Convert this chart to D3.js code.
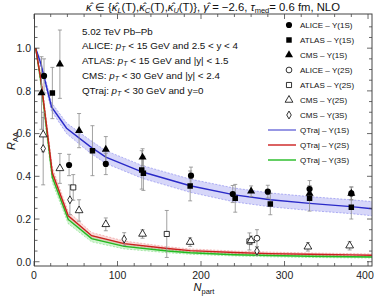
<!DOCTYPE html>
<html><head><meta charset="utf-8">
<script src="https://cdn.jsdelivr.net/npm/d3@7/dist/d3.min.js"></script>
<style>body{margin:0;background:#fff}svg{font-family:"Liberation Sans",Arial,sans-serif}</style>
</head><body>
<svg id="c" width="374" height="300"></svg>
<script>
// ---- data: [Npart, RAA, error]
const aliceY1S = [[12,0.87,0.08],[42,0.453,0.05],[86,0.458,0.05],[188,0.403,0.04],[238,0.317,0.04],[280,0.328,0.03],[330,0.34,0.04],[380,0.32,0.03]];
const atlasY1S = [[22,0.79,0.12],[70,0.52,0.117],[129,0.43,0.09],[131,0.414,0.08],[187,0.355,0.07],[241,0.297,0.065],[283,0.27,0.05],[330,0.297,0.06],[380,0.255,0.055]];
const cmsY1S   = [[9,0.79,0.17],[31,0.925,0.16],[54,0.614,0.08],[86,0.526,0.06],[130,0.489,0.04],[260,0.33,0.025],[330,0.32,0.03],[380,0.32,0.03]];
const aliceY2S = [[267,0.11,0.04]];
const atlasY2S = [[47,0.348,0.06],[159,0.13,0.11],[258,0.095,0.04]];
const cmsY2S   = [[11,0.595,0.08],[31,0.437,0.07],[54,0.24,0.05],[86,0.175,0.03],[130,0.13,0.02],[187,0.092,0.02],[260,0.10,0.02],[328,0.07,0.02],[378,0.075,0.02]];
const cmsY3S   = [[11,0.53,0.17],[43,0.29,0.07],[108,0.106,0.03],[267,0.05,0.02]];

// ---- QTraj curves
const qtraj1S_N  = [2,8,21,39,67,86,130,187,240,283,330,380,410];
const qtraj1S    = [1.0,0.93,0.725,0.625,0.54,0.49,0.42,0.356,0.313,0.29,0.273,0.258,0.246];
const qtraj1S_lo = [1.0,0.915,0.705,0.60,0.51,0.46,0.39,0.325,0.28,0.257,0.24,0.225,0.213];
const qtraj1S_hi = [1.0,0.945,0.745,0.65,0.57,0.52,0.45,0.387,0.345,0.322,0.305,0.29,0.28];
const qtrajNS_N  = [2,8,22,41,69,108,160,187,240,283,330,380,410];
const qtraj2S    = [1.0,0.86,0.415,0.215,0.122,0.085,0.062,0.052,0.043,0.038,0.035,0.032,0.03];
const qtraj2S_lo = [1.0,0.84,0.39,0.195,0.107,0.073,0.054,0.045,0.036,0.032,0.029,0.026,0.024];
const qtraj2S_hi = [1.0,0.88,0.44,0.235,0.137,0.097,0.07,0.06,0.05,0.045,0.041,0.038,0.036];
const qtraj3S    = [1.0,0.85,0.395,0.198,0.108,0.072,0.05,0.042,0.033,0.029,0.026,0.023,0.022];
const qtraj3S_lo = [1.0,0.83,0.37,0.178,0.093,0.06,0.042,0.035,0.027,0.023,0.02,0.018,0.017];
const qtraj3S_hi = [1.0,0.87,0.42,0.218,0.123,0.084,0.058,0.049,0.039,0.035,0.032,0.028,0.027];

const xTicks = [0,100,200,300,400];
const yTicks = [0.0,0.2,0.4,0.6,0.8,1.0];
const legendLabels = ["ALICE – Υ(1S)","ATLAS – Υ(1S)","CMS – Υ(1S)","ALICE – Υ(2S)","ATLAS – Υ(2S)","CMS – Υ(2S)","CMS – Υ(3S)","QTraj – Υ(1S)","QTraj – Υ(2S)","QTraj – Υ(3S)"];

const svg = d3.select("#c");
const L=34.5, R=372, T=14, B=266;
const x = d3.scaleLinear().domain([0,405]).range([34,372.2]);
const y = d3.scaleLinear().domain([-0.02,1.16]).range([B,T]);

svg.append("clipPath").attr("id","clp").append("rect").attr("x",L).attr("y",T).attr("width",R-L).attr("height",B-T);
const plot = svg.append("g").attr("clip-path","url(#clp)");

function band(N, lo, hi, fill, edge){
  const pts = N.map((n,i)=>({n,lo:lo[i],hi:hi[i]}));
  plot.append("path").datum(pts).attr("fill",fill).attr("stroke","none")
    .attr("d", d3.area().x(d=>x(d.n)).y0(d=>y(d.lo)).y1(d=>y(d.hi)));
  [lo,hi].forEach(arr=>{
    plot.append("path").datum(N.map((n,i)=>[n,arr[i]])).attr("fill","none")
      .attr("stroke",edge).attr("stroke-width",0.6).attr("stroke-dasharray","2,1.5")
      .attr("d", d3.line().x(d=>x(d[0])).y(d=>y(d[1])));
  });
}
function curve(N, v, color){
  plot.append("path").datum(N.map((n,i)=>[n,v[i]])).attr("fill","none")
    .attr("stroke",color).attr("stroke-width",1.4)
    .attr("d", d3.line().x(d=>x(d[0])).y(d=>y(d[1])));
}
band(qtraj1S_N, qtraj1S_lo, qtraj1S_hi, "rgba(110,110,235,0.28)", "rgba(90,90,230,0.7)");
band(qtrajNS_N, qtraj3S_lo, qtraj3S_hi, "rgba(90,220,90,0.28)", "rgba(60,200,60,0.6)");
band(qtrajNS_N, qtraj2S_lo, qtraj2S_hi, "rgba(235,110,110,0.25)", "rgba(230,90,90,0.6)");
curve(qtraj1S_N, qtraj1S, "#2a2ac8");
curve(qtrajNS_N, qtraj3S, "#22bb22");
curve(qtrajNS_N, qtraj2S, "#cc1f1f");

function errbars(data){
  const g = plot.append("g").attr("stroke","#8a8a8a").attr("stroke-width",0.8);
  data.forEach(d=>{
    const cx=x(d[0]), y1=y(d[1]-d[2]), y2=y(d[1]+d[2]);
    g.append("line").attr("x1",cx).attr("x2",cx).attr("y1",y1).attr("y2",y2);
    g.append("line").attr("x1",cx-2).attr("x2",cx+2).attr("y1",y1).attr("y2",y1);
    g.append("line").attr("x1",cx-2).attr("x2",cx+2).attr("y1",y2).attr("y2",y2);
  });
}
const sets = [
  {d:aliceY1S, type:d3.symbolCircle, size:30, open:false},
  {d:atlasY1S, type:d3.symbolSquare, size:30, open:false},
  {d:cmsY1S,   type:d3.symbolTriangle, size:28, open:false},
  {d:aliceY2S, type:d3.symbolCircle, size:26, open:true},
  {d:atlasY2S, type:d3.symbolSquare, size:26, open:true},
  {d:cmsY2S,   type:d3.symbolTriangle, size:26, open:true},
  {d:cmsY3S,   type:d3.symbolDiamond, size:18, open:true}
];
sets.forEach(s=>errbars(s.d));
sets.forEach(s=>{
  plot.append("g").selectAll("path").data(s.d).join("path")
    .attr("transform",d=>`translate(${x(d[0])},${y(d[1])})`)
    .attr("d", d3.symbol().type(s.type).size(s.size))
    .attr("fill", s.open? "#fff":"#000").attr("stroke","#000").attr("stroke-width", s.open?0.8:0);
});

// frame & ticks
const fc="#444";
svg.append("rect").attr("x",L).attr("y",T).attr("width",R-L).attr("height",B-T).attr("fill","none").attr("stroke",fc).attr("stroke-width",1);
const tg = svg.append("g").attr("stroke",fc).attr("stroke-width",0.8);
d3.range(0,405,20).forEach(v=>{
  const major = v%100===0, len = major?5:3, px=x(v);
  tg.append("line").attr("x1",px).attr("x2",px).attr("y1",B).attr("y2",B-len);
  tg.append("line").attr("x1",px).attr("x2",px).attr("y1",T).attr("y2",T+len);
});
d3.range(0,23).map(i=>i*0.05).forEach(v=>{
  const major = Math.abs(v*5-Math.round(v*5))<1e-6, len = major?5:3, py=y(v);
  tg.append("line").attr("x1",L).attr("x2",L+len).attr("y1",py).attr("y2",py);
  tg.append("line").attr("x1",R).attr("x2",R-len).attr("y1",py).attr("y2",py);
});
svg.append("g").selectAll("text").data(xTicks).join("text")
  .attr("x",d=>Math.min(x(d), 365)).attr("y",279).attr("text-anchor","middle").attr("font-size",10.5).attr("fill","#222").text(d=>d);
svg.append("g").selectAll("text").data(yTicks).join("text")
  .attr("x",31).attr("y",d=>y(d)+3.8).attr("text-anchor","end").attr("font-size",10.5).attr("fill","#222").text(d=>d.toFixed(1));

// axis labels
const yl = svg.append("text").attr("transform","translate(15,141) rotate(-90)").attr("text-anchor","middle").attr("font-size",11).attr("fill","#111");
yl.append("tspan").attr("font-style","italic").text("R");
yl.append("tspan").attr("font-size",7.5).attr("dy",2.5).text("AA");
const xl = svg.append("text").attr("x",204).attr("y",291).attr("text-anchor","middle").attr("font-size",11).attr("fill","#111");
xl.append("tspan").attr("font-style","italic").text("N");
xl.append("tspan").attr("font-size",7.5).attr("dy",2.5).text("part");

// title
const tt = svg.append("text").attr("x",86).attr("y",10.5).attr("text-anchor","start").attr("font-size",11.3).attr("fill","#111");
tt.append("tspan").attr("font-style","italic").text("κ̂");
tt.append("tspan").text(" ∈ {");
[["L","(T),"],["C","(T),"],["U","(T)}, "]].forEach(([s,r])=>{
  tt.append("tspan").attr("font-style","italic").text("κ̂");
  tt.append("tspan").attr("font-size",7.5).attr("font-style","italic").attr("dy",2).text(s);
  tt.append("tspan").attr("dy",-2).text(r);
});
tt.append("tspan").attr("font-style","italic").text("γ̂");
tt.append("tspan").text(" = −2.6, ");
tt.append("tspan").attr("font-style","italic").text("τ");
tt.append("tspan").attr("font-size",7.5).attr("dy",2).text("med");
tt.append("tspan").attr("dy",-2).text("= 0.6 fm, NLO");

// annotation text
const ann = svg.append("g").attr("font-size",9.8).attr("fill","#111");
ann.append("text").attr("x",82).attr("y",35).text("5.02 TeV Pb–Pb");
function ptLine(yy, pre, rest){
  const t = ann.append("text").attr("x",82).attr("y",yy);
  t.append("tspan").text(pre);
  t.append("tspan").attr("font-style","italic").text("p");
  t.append("tspan").attr("font-size",7).attr("font-style","italic").attr("dy",2).text("T");
  t.append("tspan").attr("dy",-2).text(rest);
}
ptLine(49, "ALICE: ", " < 15 GeV and 2.5 < y < 4");
ptLine(64, "ATLAS: ", " < 15 GeV and |y| < 1.5");
ptLine(78.5, "CMS: ", " < 30 GeV and |y| < 2.4");
ptLine(93.5, "QTraj:  ", " < 30 GeV and y=0");

// legend
const lg = svg.append("g");
const legY = i => 25 + i*15;
sets.forEach((s,i)=>{
  lg.append("path").attr("transform",`translate(289,${legY(i)})`)
    .attr("d", d3.symbol().type(s.type).size(s.size))
    .attr("fill", s.open? "#fff":"#000").attr("stroke","#000").attr("stroke-width", s.open?0.8:0);
});
["#6a6ad8","#cc1f1f","#22bb22"].forEach((c,j)=>{
  lg.append("line").attr("x1",268).attr("x2",296).attr("y1",legY(7+j)).attr("y2",legY(7+j)).attr("stroke",c).attr("stroke-width",1.4);
});
lg.selectAll("text").data(legendLabels).join("text")
  .attr("x",300).attr("y",(d,i)=>legY(i)+2.8).attr("font-size",8).attr("fill","#111").text(d=>d);
</script>
</body></html>
